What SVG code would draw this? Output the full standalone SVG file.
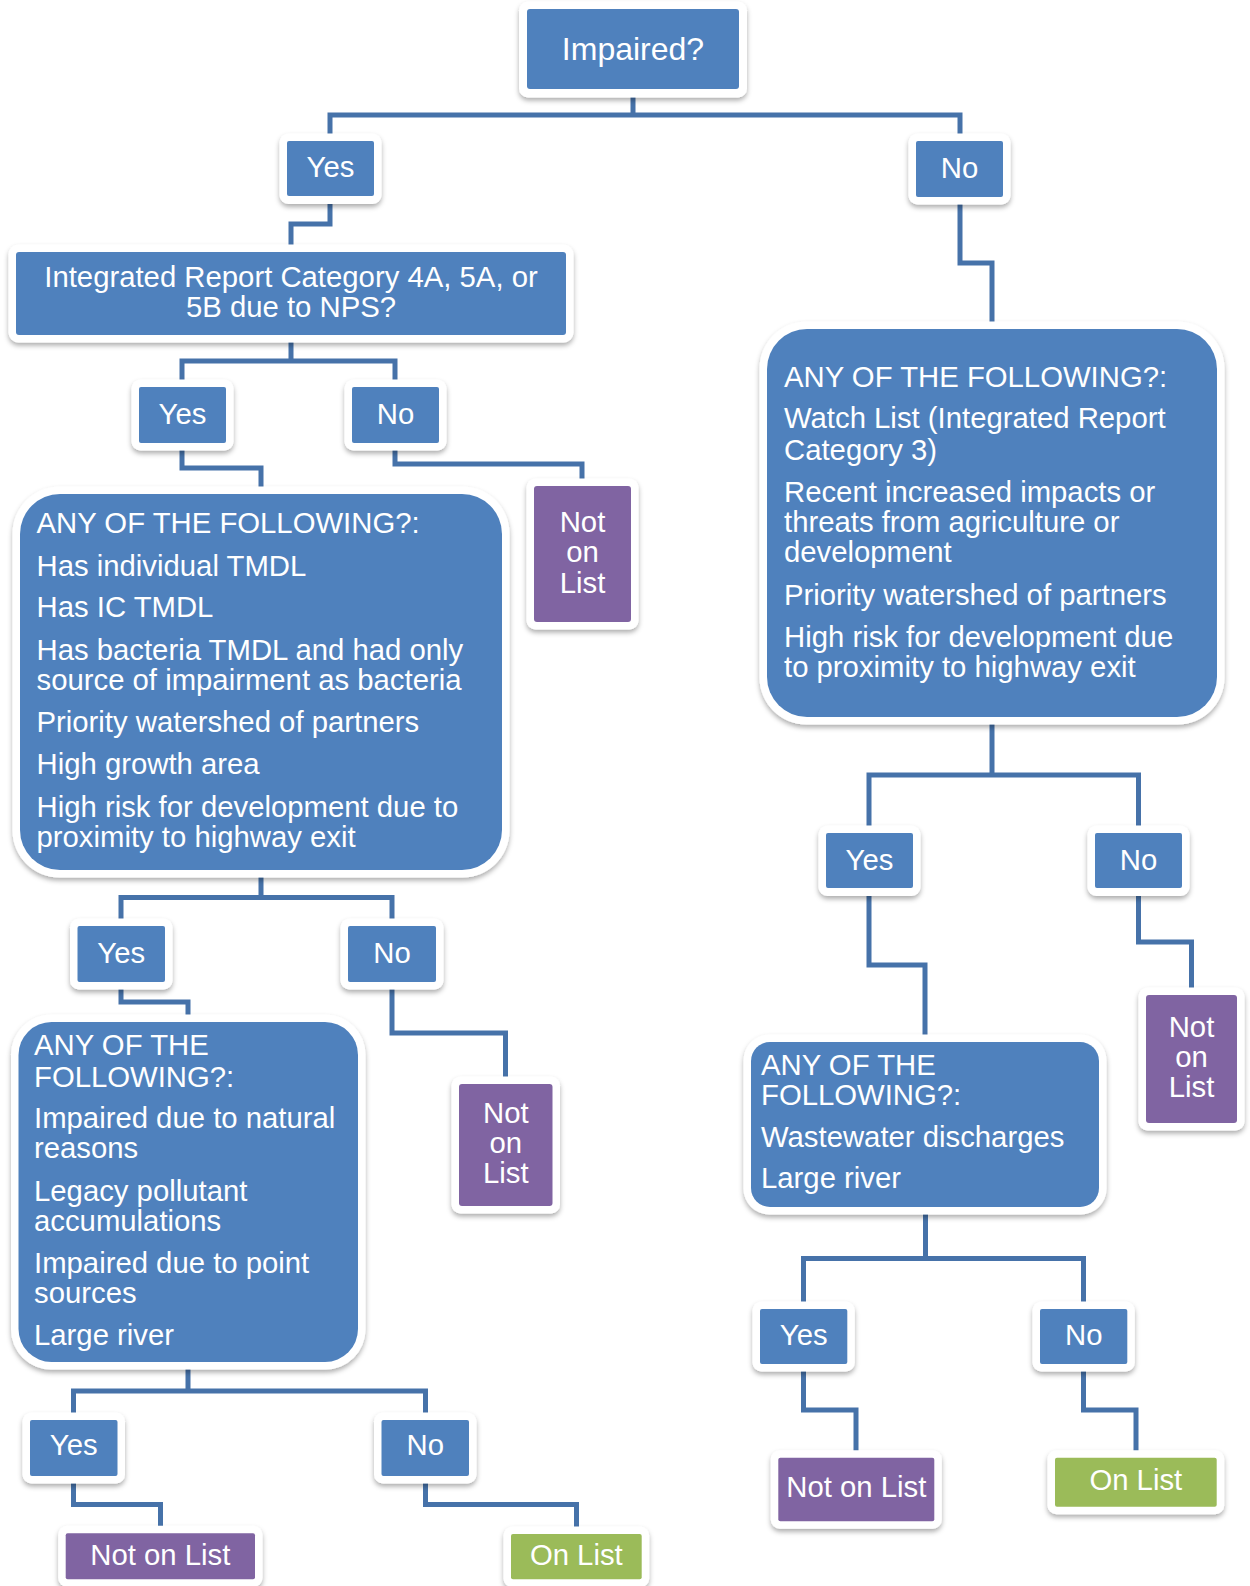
<svg xmlns="http://www.w3.org/2000/svg" width="1250" height="1586" viewBox="0 0 1250 1586">
<defs>
<filter id="sh" x="-10%" y="-10%" width="120%" height="125%">
<feDropShadow dx="0" dy="3" stdDeviation="2.5" flood-color="#000" flood-opacity="0.32"/>
</filter>
<style>
.frame{fill:#fff;filter:url(#sh)}
.b{fill:#4F81BD}
.p{fill:#8064A2}
.g{fill:#9BBB59}
text{font-family:"Liberation Sans",Arial,sans-serif;font-size:29.3px;fill:#fff}
.c{text-anchor:middle}
.conn{fill:none;stroke:#4672A9;stroke-width:5;stroke-linejoin:miter}
</style>
</defs>
<rect width="1250" height="1586" fill="#fff"/>

<g id="connectors" class="conn">
<path d="M633,89 V115 M330,141 V115 H960 V141"/>
<path d="M330,196 V224 H291 V252"/>
<path d="M960,197 V263 H992 V329"/>
<path d="M291,335 V361 M182,387 V361 H395 V387"/>
<path d="M182,443 V468 H261 V494"/>
<path d="M395,443 V464 H582 V486"/>
<path d="M261,870 V897.5 M121,926 V897.5 H392 V926"/>
<path d="M121,982 V1002 H188 V1022"/>
<path d="M392,982 V1033 H505.5 V1084"/>
<path d="M992,717 V775 M869,833 V775 H1138.5 V833"/>
<path d="M869,888 V965 H925 V1042"/>
<path d="M1138.5,888 V942 H1191.5 V995"/>
<path d="M188,1362 V1391 M73.5,1420 V1391 H425.5 V1420"/>
<path d="M73.5,1476 V1504.5 H160.5 V1533"/>
<path d="M425.5,1476 V1504.5 H576.5 V1534"/>
<path d="M925.5,1207 V1258.5 M803.5,1309 V1258.5 H1083.5 V1309"/>
<path d="M803.5,1364 V1410 H856 V1458"/>
<path d="M1083.5,1364 V1410 H1136 V1458"/>
</g>

<g id="impaired">
<rect class="frame" x="519" y="1.5" width="228" height="96" rx="9"/>
<rect class="b" x="527" y="9" width="212" height="80" rx="3"/>
<text class="c" x="633" y="60" style="font-size:32px">Impaired?</text>
</g>

<g id="yes1">
<rect class="frame" x="279.5" y="133.5" width="102" height="70.5" rx="9"/>
<rect class="b" x="287" y="141" width="87" height="55" rx="2"/>
<text class="c" x="330.5" y="177">Yes</text>
</g>

<g id="no1">
<rect class="frame" x="908.5" y="133.5" width="102" height="71" rx="9"/>
<rect class="b" x="916" y="141" width="87" height="56" rx="2"/>
<text class="c" x="959.5" y="178">No</text>
</g>

<g id="integrated">
<rect class="frame" x="8.5" y="244.5" width="565" height="98" rx="10"/>
<rect class="b" x="16" y="252" width="550" height="83" rx="3"/>
<text class="c" x="291" y="287">Integrated Report Category 4A, 5A, or</text>
<text class="c" x="291" y="317">5B due to NPS?</text>
</g>

<g id="yes2">
<rect class="frame" x="131.5" y="379.5" width="102" height="71" rx="9"/>
<rect class="b" x="139" y="387" width="87" height="56" rx="2"/>
<text class="c" x="182.5" y="424">Yes</text>
</g>

<g id="no2">
<rect class="frame" x="344.5" y="379.5" width="102" height="71" rx="9"/>
<rect class="b" x="352" y="387" width="87" height="56" rx="2"/>
<text class="c" x="395.5" y="424">No</text>
</g>

<g id="any-left-1">
<rect class="frame" x="12.5" y="486.5" width="497" height="391" rx="47"/>
<rect class="b" x="20" y="494" width="482" height="376" rx="40"/>
<text x="36.5" y="533.3">ANY OF THE FOLLOWING?:</text>
<text x="36.5" y="576">Has individual TMDL</text>
<text x="36.5" y="616.7">Has IC TMDL</text>
<text x="36.5" y="660">Has bacteria TMDL and had only</text>
<text x="36.5" y="690">source of impairment as bacteria</text>
<text x="36.5" y="731.7">Priority watershed of partners</text>
<text x="36.5" y="774">High growth area</text>
<text x="36.5" y="816.7">High risk for development due to</text>
<text x="36.5" y="846.7">proximity to highway exit</text>
</g>

<g id="not-on-list-1">
<rect class="frame" x="526.5" y="478.5" width="112" height="151" rx="9"/>
<rect class="p" x="534" y="486" width="97" height="136" rx="3"/>
<text class="c" x="582.5" y="531.7">Not</text>
<text class="c" x="582.5" y="561.7">on</text>
<text class="c" x="582.5" y="592.7">List</text>
</g>

<g id="any-right-1">
<rect class="frame" x="759.5" y="321.5" width="465" height="403" rx="47"/>
<rect class="b" x="767" y="329" width="450" height="388" rx="40"/>
<text x="784" y="386.7">ANY OF THE FOLLOWING?:</text>
<text x="784" y="428.3">Watch List (Integrated Report</text>
<text x="784" y="460">Category 3)</text>
<text x="784" y="501.7">Recent increased impacts or</text>
<text x="784" y="531.7">threats from agriculture or</text>
<text x="784" y="561.7">development</text>
<text x="784" y="605">Priority watershed of partners</text>
<text x="784" y="646.7">High risk for development due</text>
<text x="784" y="676.7">to proximity to highway exit</text>
</g>

<g id="yes3">
<rect class="frame" x="70" y="918.5" width="102.5" height="71" rx="9"/>
<rect class="b" x="77.5" y="926" width="87.5" height="56" rx="2"/>
<text class="c" x="121.2" y="962.7">Yes</text>
</g>

<g id="no3">
<rect class="frame" x="340.5" y="918.5" width="103" height="71" rx="9"/>
<rect class="b" x="348" y="926" width="88" height="56" rx="2"/>
<text class="c" x="392" y="962.7">No</text>
</g>

<g id="any-left-2">
<rect class="frame" x="11" y="1014.5" width="354.5" height="355" rx="40"/>
<rect class="b" x="18.5" y="1022" width="339.5" height="340" rx="33"/>
<text x="34" y="1055">ANY OF THE</text>
<text x="34" y="1086.7">FOLLOWING?:</text>
<text x="34" y="1128.3">Impaired due to natural</text>
<text x="34" y="1158.3">reasons</text>
<text x="34" y="1200.7">Legacy pollutant</text>
<text x="34" y="1230.7">accumulations</text>
<text x="34" y="1273.3">Impaired due to point</text>
<text x="34" y="1303.3">sources</text>
<text x="34" y="1345">Large river</text>
</g>

<g id="not-on-list-2">
<rect class="frame" x="451.5" y="1076.5" width="108.5" height="137" rx="9"/>
<rect class="p" x="459" y="1084" width="93.5" height="122" rx="3"/>
<text class="c" x="505.8" y="1123.3">Not</text>
<text class="c" x="505.8" y="1153.3">on</text>
<text class="c" x="505.8" y="1183.3">List</text>
</g>

<g id="yes-r2">
<rect class="frame" x="818.5" y="825.5" width="102" height="70.5" rx="9"/>
<rect class="b" x="826" y="833" width="87" height="55" rx="2"/>
<text class="c" x="869.5" y="870">Yes</text>
</g>

<g id="no-r2">
<rect class="frame" x="1087.5" y="825.5" width="102" height="70.5" rx="9"/>
<rect class="b" x="1095" y="833" width="87" height="55" rx="2"/>
<text class="c" x="1138.5" y="870">No</text>
</g>

<g id="any-right-2">
<rect class="frame" x="743.5" y="1034.5" width="363" height="180" rx="26"/>
<rect class="b" x="751" y="1042" width="348" height="165" rx="19"/>
<text x="761" y="1075">ANY OF THE</text>
<text x="761" y="1105">FOLLOWING?:</text>
<text x="761" y="1146.7">Wastewater discharges</text>
<text x="761" y="1188.3">Large river</text>
</g>

<g id="not-on-list-r2">
<rect class="frame" x="1138.5" y="987.5" width="106" height="143" rx="9"/>
<rect class="p" x="1146" y="995" width="91" height="128" rx="3"/>
<text class="c" x="1191.5" y="1036.7">Not</text>
<text class="c" x="1191.5" y="1066.7">on</text>
<text class="c" x="1191.5" y="1097.3">List</text>
</g>

<g id="yes-l4">
<rect class="frame" x="22.5" y="1412.5" width="102.5" height="71" rx="9"/>
<rect class="b" x="30" y="1420" width="87.5" height="56" rx="2"/>
<text class="c" x="73.7" y="1455">Yes</text>
</g>

<g id="no-l4">
<rect class="frame" x="374" y="1412.5" width="102.5" height="71" rx="9"/>
<rect class="b" x="381.5" y="1420" width="87.5" height="56" rx="2"/>
<text class="c" x="425.3" y="1455">No</text>
</g>

<g id="not-on-list-l4">
<rect class="frame" x="58.2" y="1525.8" width="204.3" height="61" rx="9"/>
<rect class="p" x="65.7" y="1533.3" width="189.3" height="46" rx="2"/>
<text class="c" x="160.3" y="1565">Not on List</text>
</g>

<g id="on-list-l4">
<rect class="frame" x="503.5" y="1526.5" width="145.7" height="61" rx="9"/>
<rect class="g" x="511" y="1534" width="130.7" height="45.3" rx="2"/>
<text class="c" x="576.3" y="1565">On List</text>
</g>

<g id="yes-r3">
<rect class="frame" x="752.5" y="1301.5" width="102.3" height="70" rx="9"/>
<rect class="b" x="760" y="1309" width="87.3" height="55" rx="2"/>
<text class="c" x="803.7" y="1345">Yes</text>
</g>

<g id="no-r3">
<rect class="frame" x="1032.5" y="1301.5" width="102.3" height="70" rx="9"/>
<rect class="b" x="1040" y="1309" width="87.3" height="55" rx="2"/>
<text class="c" x="1083.7" y="1345">No</text>
</g>

<g id="not-on-list-r3">
<rect class="frame" x="770.8" y="1450.2" width="171" height="78.5" rx="9"/>
<rect class="p" x="778.3" y="1457.7" width="156" height="63.5" rx="2"/>
<text class="c" x="856.3" y="1496.7">Not on List</text>
</g>

<g id="on-list-r3">
<rect class="frame" x="1047.5" y="1450.2" width="176.7" height="64" rx="9"/>
<rect class="g" x="1055" y="1457.7" width="161.7" height="49" rx="2"/>
<text class="c" x="1135.8" y="1490">On List</text>
</g>
</svg>
